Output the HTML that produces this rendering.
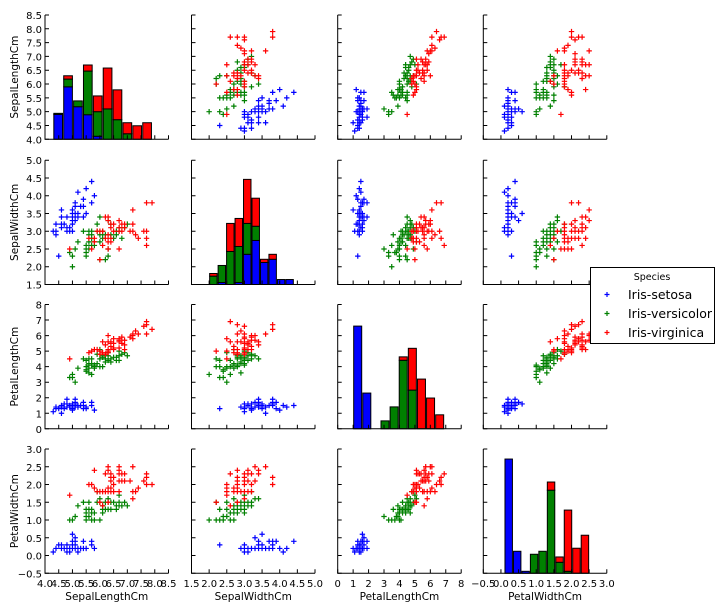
<!DOCTYPE html>
<html><head><meta charset="utf-8"><style>
body{margin:0;background:#fff}
svg{display:block;font-family:"DejaVu Sans","Liberation Sans",sans-serif}
</style></head><body>
<svg id="chart" width="720" height="611"></svg>
<script>
const featureNames=["SepalLengthCm","SepalWidthCm","PetalLengthCm","PetalWidthCm"];
const axisMin=[4.0,1.5,0,-0.5];
const axisMax=[8.5,5.0,8,3.0];
const tickStep=[0.5,0.5,1,0.5];
const species=["Iris-setosa","Iris-versicolor","Iris-virginica"];
const speciesColors=["#0000ff","#008000","#ff0000"];
const setosa=[[5.1,3.5,1.4,0.2],[4.9,3.0,1.4,0.2],[4.7,3.2,1.3,0.2],[4.6,3.1,1.5,0.2],[5.0,3.6,1.4,0.2],[5.4,3.9,1.7,0.4],[4.6,3.4,1.4,0.3],[5.0,3.4,1.5,0.2],[4.4,2.9,1.4,0.2],[4.9,3.1,1.5,0.1],[5.4,3.7,1.5,0.2],[4.8,3.4,1.6,0.2],[4.8,3.0,1.4,0.1],[4.3,3.0,1.1,0.1],[5.8,4.0,1.2,0.2],[5.7,4.4,1.5,0.4],[5.4,3.9,1.3,0.4],[5.1,3.5,1.4,0.3],[5.7,3.8,1.7,0.3],[5.1,3.8,1.5,0.3],[5.4,3.4,1.7,0.2],[5.1,3.7,1.5,0.4],[4.6,3.6,1.0,0.2],[5.1,3.3,1.7,0.5],[4.8,3.4,1.9,0.2],[5.0,3.0,1.6,0.2],[5.0,3.4,1.6,0.4],[5.2,3.5,1.5,0.2],[5.2,3.4,1.4,0.2],[4.7,3.2,1.6,0.2],[4.8,3.1,1.6,0.2],[5.4,3.4,1.5,0.4],[5.2,4.1,1.5,0.1],[5.5,4.2,1.4,0.2],[4.9,3.1,1.5,0.1],[5.0,3.2,1.2,0.2],[5.5,3.5,1.3,0.2],[4.9,3.1,1.5,0.1],[4.4,3.0,1.3,0.2],[5.1,3.4,1.5,0.2],[5.0,3.5,1.3,0.3],[4.5,2.3,1.3,0.3],[4.4,3.2,1.3,0.2],[5.0,3.5,1.6,0.6],[5.1,3.8,1.9,0.4],[4.8,3.0,1.4,0.3],[5.1,3.8,1.6,0.2],[4.6,3.2,1.4,0.2],[5.3,3.7,1.5,0.2],[5.0,3.3,1.4,0.2]];
const versicolor=[[7.0,3.2,4.7,1.4],[6.4,3.2,4.5,1.5],[6.9,3.1,4.9,1.5],[5.5,2.3,4.0,1.3],[6.5,2.8,4.6,1.5],[5.7,2.8,4.5,1.3],[6.3,3.3,4.7,1.6],[4.9,2.4,3.3,1.0],[6.6,2.9,4.6,1.3],[5.2,2.7,3.9,1.4],[5.0,2.0,3.5,1.0],[5.9,3.0,4.2,1.5],[6.0,2.2,4.0,1.0],[6.1,2.9,4.7,1.4],[5.6,2.9,3.6,1.3],[6.7,3.1,4.4,1.4],[5.6,3.0,4.5,1.5],[5.8,2.7,4.1,1.0],[6.2,2.2,4.5,1.5],[5.6,2.5,3.9,1.1],[5.9,3.2,4.8,1.8],[6.1,2.8,4.0,1.3],[6.3,2.5,4.9,1.5],[6.1,2.8,4.7,1.2],[6.4,2.9,4.3,1.3],[6.6,3.0,4.4,1.4],[6.8,2.8,4.8,1.4],[6.7,3.0,5.0,1.7],[6.0,2.9,4.5,1.5],[5.7,2.6,3.5,1.0],[5.5,2.4,3.8,1.1],[5.5,2.4,3.7,1.0],[5.8,2.7,3.9,1.2],[6.0,2.7,5.1,1.6],[5.4,3.0,4.5,1.5],[6.0,3.4,4.5,1.6],[6.7,3.1,4.7,1.5],[6.3,2.3,4.4,1.3],[5.6,3.0,4.1,1.3],[5.5,2.5,4.0,1.3],[5.5,2.6,4.4,1.2],[6.1,3.0,4.6,1.4],[5.8,2.6,4.0,1.2],[5.0,2.3,3.3,1.0],[5.6,2.7,4.2,1.3],[5.7,3.0,4.2,1.2],[5.7,2.9,4.2,1.3],[6.2,2.9,4.3,1.3],[5.1,2.5,3.0,1.1],[5.7,2.8,4.1,1.3]];
const virginica=[[6.3,3.3,6.0,2.5],[5.8,2.7,5.1,1.9],[7.1,3.0,5.9,2.1],[6.3,2.9,5.6,1.8],[6.5,3.0,5.8,2.2],[7.6,3.0,6.6,2.1],[4.9,2.5,4.5,1.7],[7.3,2.9,6.3,1.8],[6.7,2.5,5.8,1.8],[7.2,3.6,6.1,2.5],[6.5,3.2,5.1,2.0],[6.4,2.7,5.3,1.9],[6.8,3.0,5.5,2.1],[5.7,2.5,5.0,2.0],[5.8,2.8,5.1,2.4],[6.4,3.2,5.3,2.3],[6.5,3.0,5.5,1.8],[7.7,3.8,6.7,2.2],[7.7,2.6,6.9,2.3],[6.0,2.2,5.0,1.5],[6.9,3.2,5.7,2.3],[5.6,2.8,4.9,2.0],[7.7,2.8,6.7,2.0],[6.3,2.7,4.9,1.8],[6.7,3.3,5.7,2.1],[7.2,3.2,6.0,1.8],[6.2,2.8,4.8,1.8],[6.1,3.0,4.9,1.8],[6.4,2.8,5.6,2.1],[7.2,3.0,5.8,1.6],[7.4,2.8,6.1,1.9],[7.9,3.8,6.4,2.0],[6.4,2.8,5.6,2.2],[6.3,2.8,5.1,1.5],[6.1,2.6,5.6,1.4],[7.7,3.0,6.1,2.3],[6.3,3.4,5.6,2.4],[6.4,3.1,5.5,1.8],[6.0,3.0,4.8,1.8],[6.9,3.1,5.4,2.1],[6.7,3.1,5.6,2.4],[6.9,3.1,5.1,2.3],[5.8,2.7,5.1,1.9],[6.8,3.2,5.9,2.3],[6.7,3.3,5.7,2.5],[6.7,3.0,5.2,2.3],[6.3,2.5,5.0,1.9],[6.5,3.0,5.2,2.0],[6.2,3.4,5.4,2.3],[5.9,3.0,5.1,1.8]];
const histStart=[4.3,2.0,1.0,0.1];
const histWidth=[0.36,0.24,0.59,0.24];
const hist0Setosa=[4.9,5.9,5.18,4.89,4.11,null,null,null,null,null];
const hist0Versicolor=[4.94,6.18,5.39,6.47,5.0,5.1,4.71,4.2,null,null];
const hist0Virginica=[null,6.3,null,6.69,5.57,6.58,5.79,4.6,4.49,4.6];
const hist1Setosa=[null,1.556,null,1.556,2.35,2.74,2.12,2.21,1.64,1.64];
const hist1Versicolor=[1.735,2.036,2.43,2.57,3.22,3.14,null,null,null,null];
const hist1Virginica=[1.81,null,3.22,3.36,4.46,3.93,2.21,2.35,null,null];
const hist2Setosa=[6.61,2.30,null,null,null,null,null,null,null,null];
const hist2Versicolor=[null,null,null,0.51,1.41,4.41,2.49,null,null,null];
const hist2Virginica=[null,null,null,null,null,4.63,5.18,3.2,1.98,0.9];
const hist3Setosa=[2.717,0.12,-0.444,null,null,null,null,null,null,null];
const hist3Versicolor=[null,null,null,0.036,0.12,1.84,-0.19,-0.444,null,null];
const hist3Virginica=[null,null,null,null,null,2.07,-0.04,1.28,0.206,0.572];

const histTops=[[hist0Setosa,hist0Versicolor,hist0Virginica],[hist1Setosa,hist1Versicolor,hist1Virginica],[hist2Setosa,hist2Versicolor,hist2Virginica],[hist3Setosa,hist3Versicolor,hist3Virginica]];
const groups=[setosa,versicolor,virginica];
const colX=[45,191.5,337.7,483.3],colW=123.5;
const rowY=[15,160.2,304.5,449],rowH=124.3;
const NS="http://www.w3.org/2000/svg";
const svg=document.getElementById('chart');
function mk(tag,attrs,parent){const e=document.createElementNS(NS,tag);for(const k in attrs)e.setAttribute(k,attrs[k]);(parent||svg).appendChild(e);return e;}
function xs(c,v){return colX[c]+(v-axisMin[c])/(axisMax[c]-axisMin[c])*colW;}
function ys(r,v){return rowY[r]+rowH-(v-axisMin[r])/(axisMax[r]-axisMin[r])*rowH;}
function fmt(v,step){return step<1?v.toFixed(1).replace('-','\u2212'):String(Math.round(v));}

for(let r=0;r<4;r++){for(let c=0;c<4;c++){
  const g=mk('g',{});
  
  
  if(r===c){
    const tops=histTops[r];
    for(let b=0;b<10;b++){
      let prev=axisMin[r];
      for(let s=0;s<3;s++){
        const t=tops[s][b];
        if(t===null||t<=prev)continue;
        const x0=xs(c,histStart[r]+b*histWidth[r]+histWidth[r]*0.06),x1=xs(c,histStart[r]+(b+0.94)*histWidth[r]);
        const rect=mk('rect',{x:x0,y:ys(r,t),width:x1-x0,height:ys(r,prev)-ys(r,t),fill:speciesColors[s],stroke:'#000','stroke-width':1},g);
        
        
        prev=t;
      }
    }
  } else {
    for(let s=0;s<3;s++){
      let d='';
      for(const row of groups[s]){const px=xs(c,row[c]),py=ys(r,row[r]);d+=`M${px-2.7},${py}h5.4M${px},${py-2.7}v5.4`;}
      const p=mk('path',{d:d,stroke:speciesColors[s],'stroke-width':1.2,fill:'none'},g);
      
      
    }
  }
  const sp=mk('path',{d:`M${colX[c]},${rowY[r]}V${rowY[r]+rowH}H${colX[c]+colW}`,stroke:'#000','stroke-width':1,fill:'none'},g);
  
  
  let td='';
  for(let v=axisMin[c];v<=axisMax[c]+1e-9;v+=tickStep[c]){const px=xs(c,v);td+=`M${px},${rowY[r]+rowH}v-4`;}
  for(let v=axisMin[r];v<=axisMax[r]+1e-9;v+=tickStep[r]){const py=ys(r,v);td+=`M${colX[c]},${py}h4`;}
  const tk=mk('path',{d:td,stroke:'#000','stroke-width':1,fill:'none'},g);
  
  
  if(c===0){
    for(let v=axisMin[r];v<=axisMax[r]+1e-9;v+=tickStep[r]){
      const t=mk('text',{x:colX[0]-3,y:ys(r,v)+4,'text-anchor':'end','font-size':10,fill:'#000'},g);
      t.textContent=fmt(v,tickStep[r]);
      
      
    }
    const yl=mk('text',{transform:`translate(18,${rowY[r]+rowH/2}) rotate(-90)`,'text-anchor':'middle','font-size':10.5,fill:'#000'},g);
    yl.textContent=featureNames[r];
    
    
  }
  if(r===3){
    for(let v=axisMin[c];v<=axisMax[c]+1e-9;v+=tickStep[c]){
      const t=mk('text',{x:xs(c,v),y:587,'text-anchor':'middle','font-size':10,fill:'#000'},g);
      t.textContent=fmt(v,tickStep[c]);
      
      
    }
    const xl=mk('text',{x:colX[c]+colW/2,y:600,'text-anchor':'middle','font-size':10.5,fill:'#000'},g);
    xl.textContent=featureNames[c];
    
    
  }
}}
const lg=mk('g',{});


mk('rect',{x:590.5,y:267.5,width:124,height:76,fill:'#fff',stroke:'#000','stroke-width':1},lg);
const lt=mk('text',{x:652,y:280,'text-anchor':'middle','font-size':9.5,fill:'#000'},lg);
lt.textContent='Species';


for(let s=0;s<3;s++){
  const y=294.5+s*19;
  const e=mk('g',{},lg);
  
  
  mk('path',{d:`M${604.5},${y}h5M${607},${y-2.5}v5`,stroke:speciesColors[s],'stroke-width':1.2},e);
  const t=mk('text',{x:628,y:y+4.5,'font-size':12.5,fill:'#000'},e);
  t.textContent=species[s];
}
</script>
</body></html>
